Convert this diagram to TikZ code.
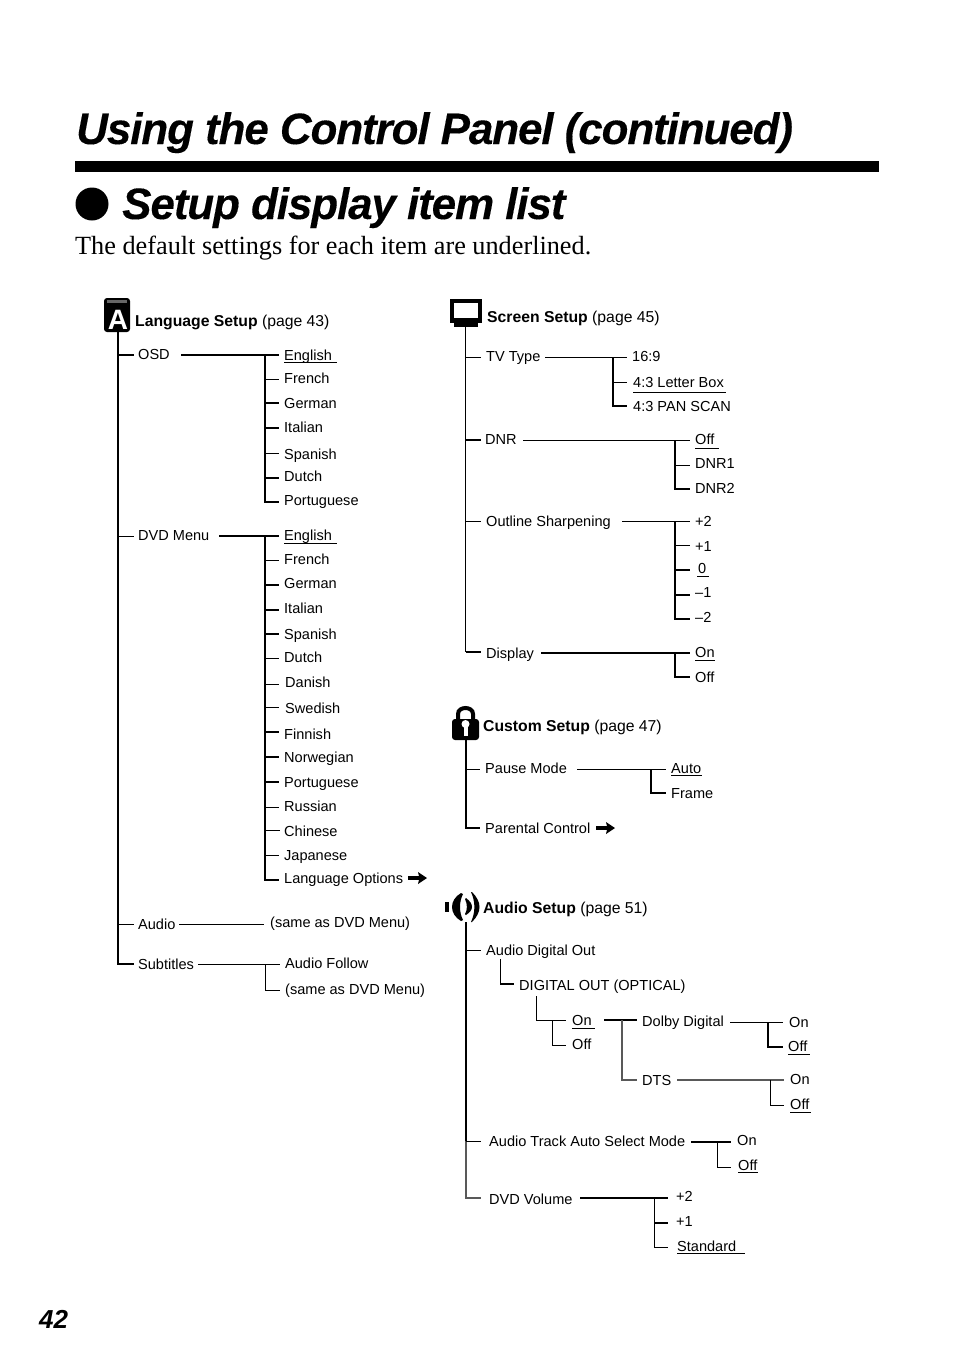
\documentclass[tikz,border=0pt]{standalone}
\usepackage{fontspec}
\setmainfont{Liberation Sans}
\newfontfamily\serifbody{Liberation Serif}
\tikzset{
  lab/.style={anchor=west,inner ysep=0pt,text height=10pt,text depth=0pt,text=black,font=\fontsize{14.55}{16}\selectfont},
  head/.style={anchor=base west,inner sep=0pt,text=black,font=\fontsize{15.75}{17}\selectfont},
  bighead/.style={anchor=base west,inner sep=0pt,font=\fontsize{44}{46}\selectfont\bfseries\itshape\addfontfeature{LetterSpace=-2.55,FakeBold=0.2}},
  la/.style={draw=black,line width=0.9pt},
  lb/.style={draw=black,line width=1.6pt},
  lc/.style={draw=black,line width=1.2pt},
  lg/.style={draw=black!65,line width=1.3pt},
  ulb/.style={draw=black,line width=0.8pt}
}
\newcommand\lab[6][5]{\pgfmathsetmacro\rz{#4-#5}\node[lab,inner xsep=#1pt] (#2) at ({#3-#1},#4) {\raisebox{\rz pt}[0pt][0pt]{#6}};}
\newcommand\ulbar[3]{\draw[ulb] (#1,#3) -- (#2,#3);}
\newcommand\fatarrow[2]{\fill[black] (#1,#2-1.8) -- (#1+11,#2-1.8) -- (#1+10,#2-6) -- (#1+19,#2) -- (#1+10,#2+6) -- (#1+11,#2+1.8) -- (#1,#2+1.8) -- cycle;}
\begin{document}
\begin{tikzpicture}[x=1pt,y=-1pt]
\useasboundingbox (0,0) rectangle (954,1357);
% ---- page heading
\node[bighead] (title) at (76,144) {Using the Control Panel (continued)};
\fill[black] (75,161) rectangle (879,172);
\fill[black] (92,204) circle (16.5);
\node[bighead] (sub) at (122,219) {Setup display item list};
\node[anchor=base west,inner sep=0pt,font=\fontsize{26.25}{28}\selectfont\serifbody] (note) at (75,254) {The default settings for each item are underlined.};
\node[anchor=base west,inner sep=0pt,font=\fontsize{26}{28}\selectfont\bfseries\itshape] (pageno) at (39,1328) {42};

% ---- icon A
\fill[black,rounded corners=3pt] (104,298) rectangle (130,332);
\fill[black!60] (107,300) rectangle (127,303);
\node[anchor=base,inner sep=0pt,text=white,font=\fontsize{28}{28}\selectfont\bfseries] (iconA) at (118,329) {A};
% ---- icon TV
\fill[black] (450,299) rectangle (482,323);
\fill[white] (454,303) rectangle (478,318);
\fill[black] (454,322) rectangle (478,327);
% ---- icon lock
\draw[black,line width=4pt] (458,722) -- (458,714) .. controls (458,706) and (473,706) .. (473,714) -- (473,722);
\fill[black,rounded corners=3pt] (452,719) rectangle (479,740);
\fill[white] (465.5,724) circle (4);
\fill[white] (463.5,724) rectangle (467.5,736);
% ---- icon speaker
\fill[black] (445,902) rectangle (449,912);
\fill[black] (461,893) .. controls (449,900) and (449,914) .. (461,921) -- (463,920) .. controls (459,912) and (459,902) .. (463,894) -- cycle;
\fill[black] (465,899) .. controls (467.5,904) and (467.5,910) .. (465,914) -- (466,915) .. controls (474,910) and (474,904) .. (466,898) -- cycle;
\fill[black] (471,892) .. controls (475.5,902) and (475.5,912) .. (471,922) -- (472,922) .. controls (482,912) and (482,902) .. (472,892) -- cycle;

% ---- Language Setup
\node[head] (hlang) at (135,326) {\textbf{Language Setup} (page 43)};
\coordinate (langtop) at (118,331);
\lab[4]{osd}{138}{355}{354}{OSD}
\lab[4]{dvd}{138}{536}{535}{DVD Menu}
\lab[4]{aud}{138}{924}{924}{Audio}
\lab[4]{subt}{138}{964}{964}{Subtitles}
\draw[lc] (langtop) |- (subt.west);
\draw[lb] (langtop |- osd.west) -- (osd.west);
\draw[la] (langtop |- dvd.west) -- (dvd.west);
\draw[la] (langtop |- aud.west) -- (aud.west);
% OSD list
\lab{oEn}{284}{355}{355}{English}
\lab{oFr}{284}{379}{378}{French}
\lab{oGe}{284}{403}{403}{German}
\lab{oIt}{284}{428}{427}{Italian}
\lab{oSp}{284}{453}{454}{Spanish}
\lab{oDu}{284}{478}{476}{Dutch}
\lab{oPo}{284}{502}{500}{Portuguese}
\ulbar{284}{337}{362}
\coordinate (oOut) at (181,355);
\coordinate (oJ) at (265,355);
\draw[lb] (oOut) -- (oEn.west);
\draw[lb] (oJ) |- (oPo.west);
\foreach \n/\s in {oFr/la,oGe/lb,oIt/lb,oSp/la,oDu/lb}{\draw[\s] (oJ |- \n.west) -- (\n.west);}
% DVD list
\lab{dEn}{284}{536}{535}{English}
\lab{dFr}{284}{560}{559}{French}
\lab{dGe}{284}{585}{583}{German}
\lab{dIt}{284}{610}{608}{Italian}
\lab{dSp}{284}{634}{634}{Spanish}
\lab{dDu}{284}{658}{657}{Dutch}
\lab[6]{dDa}{285}{684}{682}{Danish}
\lab[6]{dSw}{285}{707}{708}{Swedish}
\lab{dFi}{284}{732}{734}{Finnish}
\lab{dNo}{284}{757}{757}{Norwegian}
\lab{dPo}{284}{782}{782}{Portuguese}
\lab{dRu}{284}{807}{806}{Russian}
\lab[4]{dCh}{284}{830}{831}{Chinese}
\lab{dJa}{284}{855}{855}{Japanese}
\lab{dLo}{284}{880}{878}{Language Options}
\fatarrow{408}{878}
\ulbar{284}{337}{543}
\coordinate (dOut) at (219,536);
\coordinate (dJ) at (265,536);
\draw[lb] (dOut) -- (dEn.west);
\draw[lb] (dJ) |- (dLo.west);
\foreach \n/\s in {dFr/la,dGe/lb,dIt/lb,dSp/lb,dDu/la,dDa/la,dSw/la,dFi/lb,dNo/lb,dPo/lb,dRu/la,dCh/la,dJa/la}{\draw[\s] (dJ |- \n.west) -- (\n.west);}
% Audio / Subtitles
\lab[6]{aSame}{270}{924}{922}{(same as DVD Menu)}
\coordinate (aOut) at (179,924);
\draw[la] (aOut) -- (aSame.west);
\lab{sFo}{285}{964}{963}{Audio Follow}
\lab{sSame}{285}{990}{989}{(same as DVD Menu)}
\coordinate (sOut) at (198,964);
\coordinate (sJ) at (265,964);
\draw[la] (sOut) -- (sFo.west);
\draw[la] (sJ) |- (sSame.west);

% ---- Screen Setup
\node[head] (hscr) at (487,322) {\textbf{Screen Setup} (page 45)};
\coordinate (scrtop) at (465.5,327);
\lab{tv}{486}{357}{356}{TV Type}
\lab[4]{dnr}{485}{440}{439}{DNR}
\lab{outl}{486}{521}{521}{Outline Sharpening}
\lab{disp}{486}{652}{653}{Display}
\draw[la] (scrtop) -- (scrtop |- disp.west);
\draw[lb] (scrtop |- disp.west) -- (disp.west);
\draw[la] (scrtop |- tv.west) -- (tv.west);
\draw[lb] (scrtop |- dnr.west) -- (dnr.west);
\draw[la] (scrtop |- outl.west) -- (outl.west);
% TV type
\lab{t169}{632}{357}{356}{16:9}
\lab[6]{tLb}{633}{382}{382}{4:3 Letter Box}
\lab[6]{tPs}{633}{406}{406}{4:3 PAN SCAN}
\ulbar{633}{726}{392}
\coordinate (tOut) at (545,357);
\coordinate (tJ) at (613,357);
\draw[la] (tOut) -- (t169.west);
\draw[lc] (tJ) |- (tPs.west);
\draw[la] (tJ |- tLb.west) -- (tLb.west);
% DNR
\lab{nOff}{695}{440}{439}{Off}
\lab{nOne}{695}{465}{463}{DNR1}
\lab{nTwo}{695}{489}{488}{DNR2}
\ulbar{695}{719}{448}
\coordinate (nOut) at (523,440);
\coordinate (nJ) at (675,440);
\draw[la] (nOut) -- (nOff.west);
\draw[lc] (nJ) |- (nTwo.west);
\draw[la] (nJ |- nOne.west) -- (nOne.west);
% Outline sharpening
\lab{pTw}{695}{521}{521}{+2}
\lab{pOn}{695}{545}{546}{+1}
\lab[8]{pZe}{698}{570}{568}{0}
\lab{pMo}{695}{595}{592}{–1}
\lab{pMt}{695}{619}{617}{–2}
\ulbar{697}{709}{576}
\coordinate (pOut) at (622,521);
\coordinate (pJ) at (675,521);
\draw[la] (pOut) -- (pTw.west);
\draw[lc] (pJ) |- (pMt.west);
\foreach \n/\s in {pOn/la,pZe/lb,pMo/lb}{\draw[\s] (pJ |- \n.west) -- (\n.west);}
% Display
\lab{yOn}{695}{653}{652}{On}
\lab{yOff}{695}{677}{677}{Off}
\ulbar{695}{715}{660}
\coordinate (yOut) at (541,653);
\coordinate (yJ) at (675,653);
\draw[lb] (yOut) -- (yOn.west);
\draw[lc] (yJ) |- (yOff.west);

% ---- Custom Setup
\node[head] (hcus) at (483,731) {\textbf{Custom Setup} (page 47)};
\coordinate (custop) at (466,740);
\lab{pause}{485}{769}{768}{Pause Mode}
\lab{paren}{485}{828}{828}{Parental Control}
\fatarrow{596}{828}
\draw[lc] (custop) |- (paren.west);
\draw[la] (custop |- pause.west) -- (pause.west);
\lab{mAu}{671}{769}{768}{Auto}
\lab{mFr}{671}{793}{793}{Frame}
\ulbar{671}{702}{775}
\coordinate (mOut) at (577,769);
\coordinate (mJ) at (651,769);
\draw[la] (mOut) -- (mAu.west);
\draw[lb] (mJ) |- (mFr.west);

% ---- Audio Setup
\node[head] (haud) at (483,913) {\textbf{Audio Setup} (page 51)};
\coordinate (audtop) at (466,922);
\lab{adig}{486}{950}{950}{Audio Digital Out}
\lab[8]{atrk}{489}{1141}{1141}{Audio Track Auto Select Mode}
\lab[8]{avol}{489}{1198}{1199}{DVD Volume}
\draw[lc] (audtop) -- (audtop |- atrk.west);
\draw[lg] (audtop |- atrk.west) |- (avol.west);
\draw[la] (audtop |- adig.west) -- (adig.west);
\draw[la] (audtop |- atrk.west) -- (atrk.west);
% digital out
\lab{optic}{519}{984}{985}{DIGITAL OUT (OPTICAL)}
\coordinate (dOptA) at (500,959);
\draw[la] (dOptA) -- (dOptA |- optic.west);
\draw[lb] (dOptA |- optic.west) -- (optic.west);
\lab[6]{gOn}{572}{1020}{1020}{On}
\lab[6]{gOff}{572}{1045}{1044}{Off}
\ulbar{572}{595}{1028}
\coordinate (gA) at (536,996);
\coordinate (gJ) at (552,1020);
\draw[la] (gA) |- (gOn.west);
\draw[la] (gJ) |- (gOff.west);
% dolby / dts
\lab{dol}{642}{1020}{1021}{Dolby Digital}
\lab{dts}{642}{1080}{1080}{DTS}
\coordinate (fOut) at (604,1020);
\coordinate (fJ) at (622,1020);
\draw[lb] (fOut) -- (dol.west);
\draw[lg] (fJ) |- (dts.west);
\lab[6]{lOn}{789}{1022}{1022}{On}
\lab[5]{lOff}{788}{1047}{1046}{Off}
\ulbar{788}{810}{1054}
\coordinate (lOut) at (730,1022);
\coordinate (lJ) at (768,1022);
\draw[la] (lOut) -- (lOn.west);
\draw[lb] (lJ) |- (lOff.west);
\lab[6]{tsOn}{790}{1080}{1079}{On}
\lab[6]{tsOff}{790}{1105}{1104}{Off}
\ulbar{790}{811}{1112}
\coordinate (tsOut) at (677,1080);
\coordinate (tsJ) at (770,1080);
\draw[lg] (tsOut) -- (tsOn.west);
\draw[la] (tsJ) |- (tsOff.west);
% track
\lab[6]{kOn}{737}{1142}{1140}{On}
\lab[7]{kOff}{738}{1167}{1165}{Off}
\ulbar{738}{758}{1172}
\coordinate (kOut) at (691,1142);
\coordinate (kJ) at (717,1142);
\draw[lb] (kOut) -- (kOn.west);
\draw[la] (kJ) |- (kOff.west);
% volume
\lab[8]{vTw}{676}{1198}{1196}{+2}
\lab[8]{vOn}{676}{1223}{1221}{+1}
\lab[9]{vSt}{677}{1247}{1246}{Standard}
\ulbar{677}{745}{1253}
\coordinate (vOut) at (580,1198);
\coordinate (vJ) at (654,1198);
\draw[lb] (vOut) -- (vTw.west);
\draw[la] (vJ) |- (vSt.west);
\draw[lb] (vJ |- vOn.west) -- (vOn.west);
\end{tikzpicture}
\end{document}
